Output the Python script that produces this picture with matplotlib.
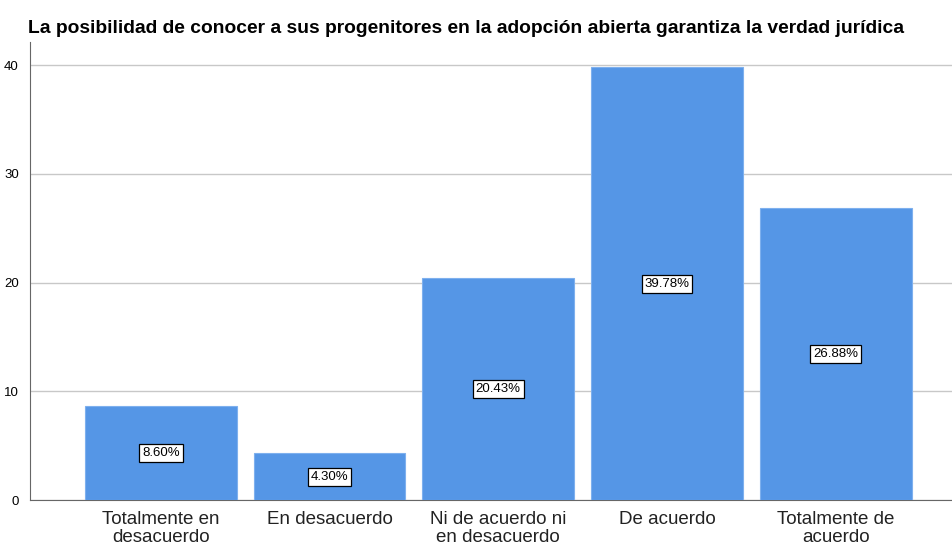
import matplotlib.pyplot as plt
import numpy as np

plt.rcParams['font.family'] = ['Liberation Sans', 'DejaVu Sans']

categorias = ['Totalmente en\ndesacuerdo', 'En desacuerdo', 'Ni de acuerdo ni\nen desacuerdo',
              'De acuerdo', 'Totalmente de\nacuerdo']
porcentajes = [8.60, 4.30, 20.43, 39.78, 26.88]
etiquetas = ['8.60%', '4.30%', '20.43%', '39.78%', '26.88%']
yticks = [0, 10, 20, 30, 40]
titulo = 'La posibilidad de conocer a sus progenitores en la adopción abierta garantiza la verdad jurídica'

fig = plt.figure(figsize=(9.52, 5.47), dpi=100)
ax = fig.add_axes([0.0315, 0.0859, 0.9685, 0.837])

x = np.arange(len(categorias))
ax.bar(x, porcentajes, width=0.9, color='#5596e6', edgecolor='#7eb0ee', linewidth=0.8, zorder=3)

# etiquetas de porcentaje en el centro de cada barra
for xi, v, t in zip(x, porcentajes, etiquetas):
    ax.text(xi, v / 2, t, ha='center', va='center', fontsize=9.5, zorder=4,
            bbox=dict(boxstyle='square,pad=0.22', facecolor='white', edgecolor='black', linewidth=0.9))

ax.set_xlim(-0.776, 4.69)
ax.set_ylim(0, 42.1)
ax.set_yticks(yticks)
ax.set_xticks(x)
ax.set_xticklabels(categorias, fontsize=13.5, color='#222222', linespacing=1.05)
ax.tick_params(axis='y', labelsize=9.5, length=0, pad=8)
ax.tick_params(axis='x', length=0, pad=8)
ax.yaxis.grid(True, color='#c8c8c8', linewidth=1.0, zorder=0)
for s in ['top', 'right']:
    ax.spines[s].set_visible(False)
ax.spines['left'].set_color('#666666')
ax.spines['bottom'].set_color('#666666')

fig.text(0.0294, 0.94, titulo, fontsize=13.9, fontweight='bold', ha='left', va='baseline')

fig.savefig('out.png', dpi=100)
